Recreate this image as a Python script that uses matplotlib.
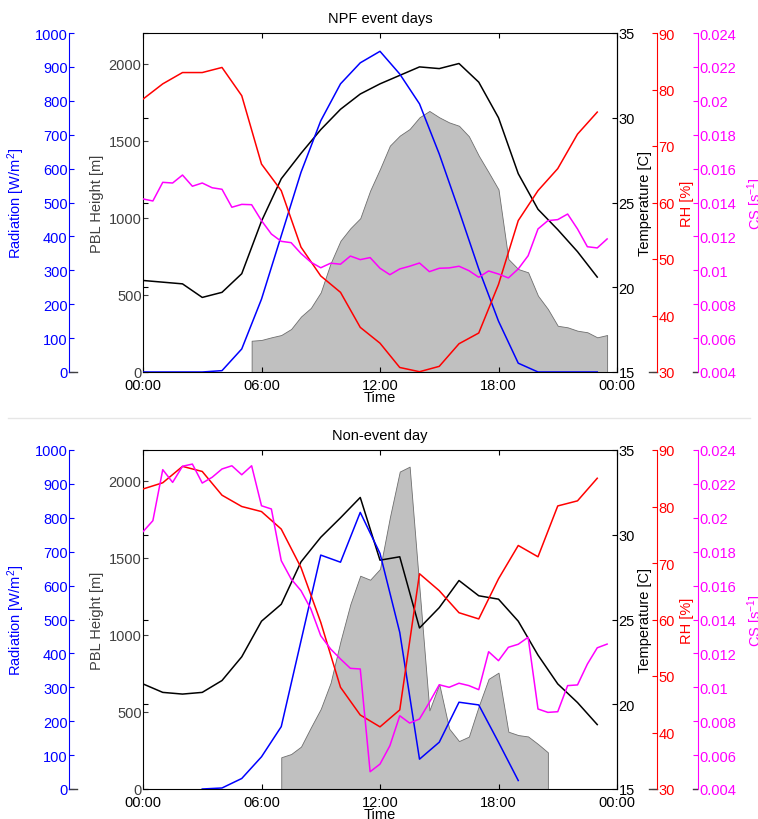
import numpy as np
import matplotlib
matplotlib.use('Agg')
import matplotlib.pyplot as plt
from matplotlib.lines import Line2D
from matplotlib.ticker import FuncFormatter

plt.rcParams['font.family'] = ['Liberation Sans', 'DejaVu Sans']
plt.rcParams['mathtext.default'] = 'regular'
plt.rcParams['font.size'] = 10

# time grids
hours = np.arange(0, 24, 1.0)
half_hours = np.arange(0, 24, 0.5)

# ---- NPF event days ----
temp_npf = [20.4, 20.3, 20.2, 19.4, 19.7, 20.8, 23.9, 26.4, 27.9, 29.3, 30.5, 31.4,
            32.0, 32.5, 33.0, 32.9, 33.2, 32.1, 30.0, 26.7, 24.6, 23.4, 22.1, 20.6]
rad_npf = [0, 0, 0, 0, 4, 68, 215, 402, 589, 741, 850, 912,
           946, 879, 791, 643, 476, 304, 150, 26, 0, 0, 0, 0]
rh_npf = [78.3, 81.0, 83.0, 83.0, 83.9, 78.9, 66.8, 62.1, 52.1, 47.0, 44.1, 37.9,
          35.1, 30.8, 30.05, 31.0, 35.0, 36.9, 45.5, 56.8, 62.1, 66.0, 72.1, 76.0]
cs_npf = [0.01421, 0.01409, 0.01519, 0.01515, 0.01562, 0.01496, 0.01515, 0.01487,
          0.01478, 0.01372, 0.01389, 0.01387, 0.01293, 0.01214, 0.01171, 0.01163,
          0.01099, 0.01048, 0.01015, 0.01042, 0.01036, 0.01084, 0.01063, 0.01075,
          0.01012, 0.00974, 0.01008, 0.01024, 0.01043, 0.00992, 0.01012, 0.01014,
          0.01024, 0.00998, 0.00959, 0.00996, 0.00978, 0.00955, 0.01008, 0.01086,
          0.01244, 0.01293, 0.01299, 0.01332, 0.01244, 0.01139, 0.01132, 0.01185]
pbl_npf_t = np.arange(5.5, 24, 0.5)
pbl_npf = [203, 208, 225, 240, 279, 360, 416, 517, 706, 852, 933, 998, 1177, 1318,
           1469, 1534, 1577, 1653, 1694, 1653, 1620, 1598, 1530, 1404, 1296, 1185,
           733, 668, 647, 495, 409, 300, 290, 268, 258, 225, 240]

# ---- Non-event day ----
temp_non = [21.2, 20.7, 20.6, 20.7, 21.4, 22.8, 24.9, 25.9, 28.4, 29.85, 31.0, 32.2,
            28.5, 28.7, 24.5, 25.7, 27.3, 26.4, 26.2, 24.9, 22.9, 21.2, 20.1, 18.8]
rad_non = [np.nan, np.nan, np.nan, 0, 3, 31, 95, 184, 437, 690, 669, 816,
           695, 462, 88, 138, 256, 248, 138, 25, np.nan, np.nan, np.nan, np.nan]
rh_non = [83.1, 84.2, 87.1, 86.2, 82.0, 80.0, 79.1, 76.0, 69.2, 59.5, 48.0, 43.1,
          41.0, 44.0, 68.1, 65.1, 61.2, 60.1, 67.2, 73.1, 71.1, 80.1, 81.0, 85.0]
cs_non = [0.01918, 0.01983, 0.02284, 0.02209, 0.02304, 0.02317, 0.02205, 0.02239,
          0.02288, 0.02307, 0.02254, 0.02307, 0.02071, 0.02052, 0.01747, 0.01639,
          0.0157, 0.01462, 0.01304, 0.01226, 0.01167, 0.01112, 0.01108, 0.00502,
          0.00547, 0.00655, 0.00832, 0.00789, 0.00813, 0.00911, 0.01015, 0.01000,
          0.01024, 0.0101, 0.00986, 0.0121, 0.01157, 0.01236, 0.01254, 0.01295,
          0.00872, 0.00852, 0.00856, 0.0101, 0.01014, 0.01137, 0.01233, 0.01255]
pbl_non_t = np.arange(7.0, 21, 0.5)
pbl_non = [206, 227, 275, 400, 520, 690, 960, 1200, 1384, 1358, 1428, 1763, 2060,
           2092, 1300, 510, 681, 392, 311, 340, 538, 715, 755, 372, 350, 341, 292, 238]

xticks = [0, 6, 12, 18, 24]
xticklabels = ['00:00', '06:00', '12:00', '18:00', '00:00']

W, H = 758.0, 820.0
AX_L, AX_R = 143.0, 617.0
AX_W = AX_R - AX_L
DGRAY = '#404040'
LW = 1.1


def only_spine(a, side):
    for s in a.spines:
        a.spines[s].set_visible(s == side)


def stub(a, x0, x1, color=DGRAY):
    a.add_line(Line2D([(x0 - AX_L) / AX_W, (x1 - AX_L) / AX_W], [0, 0],
                      transform=a.transAxes, color=color, lw=1.0, clip_on=False))


def panel(top_px, title, pbl_t, pbl, temp, rad, rh, cs):
    ax = fig.add_axes([AX_L / W, 1 - (top_px + 339) / H, AX_W / W, 339 / H])
    ax.fill_between(pbl_t, 0, pbl, facecolor='#c0c0c0', edgecolor='#6e6e6e', lw=0.6)
    ax.set_xlim(0, 24)
    ax.set_ylim(0, 2200)
    ax.set_yticks([0, 500, 1000, 1500, 2000])
    ax.set_xticks(xticks)
    ax.set_xticklabels(xticklabels)
    ax.tick_params(axis='both', direction='in', length=3.5, top=True, labelsize=10.5)
    ax.tick_params(axis='y', labelcolor=DGRAY, color=DGRAY, pad=1)
    ax.tick_params(axis='x', pad=4)
    ax.set_ylabel('PBL Height [m]', color=DGRAY, fontsize=10.5)
    ax.yaxis.set_label_coords((104 - AX_L) / AX_W, 0.5)
    ax.set_xlabel('Time', fontsize=10.5, labelpad=-1)
    ax.set_title(title, fontsize=10.5, pad=8)

    # temperature
    ax_t = ax.twinx()
    ax_t.plot(hours, temp, color='black', lw=LW)
    ax_t.set_ylim(15, 35)
    ax_t.set_yticks([15, 20, 25, 30, 35])
    ax_t.tick_params(axis='y', direction='in', length=3.5, left=True, labelsize=10.5, pad=1)
    ax_t.set_ylabel('Temperature [C]', fontsize=10.5)
    ax_t.yaxis.set_label_coords((638 - AX_L) / AX_W, 0.5)

    # radiation (far left)
    ax_r = ax.twinx()
    ax_r.plot(hours, rad, color='blue', lw=LW)
    ax_r.set_ylim(0, 1000)
    ax_r.set_yticks(np.arange(0, 1001, 100))
    ax_r.yaxis.tick_left()
    ax_r.yaxis.set_label_position('left')
    ax_r.spines['left'].set_position(('axes', (69 - AX_L) / AX_W))
    only_spine(ax_r, 'left')
    ax_r.spines['left'].set_color('blue')
    ax_r.tick_params(axis='y', direction='in', length=3.5, colors='blue', labelsize=10.5, pad=1)
    ax_r.set_ylabel('Radiation [W/m$^{2}$]', color='blue', fontsize=10.5)
    ax_r.yaxis.set_label_coords((27 - AX_L) / AX_W, 0.5)
    stub(ax_r, 69, 77)

    # relative humidity
    ax_h = ax.twinx()
    ax_h.plot(hours, rh, color='red', lw=LW)
    ax_h.set_ylim(30, 90)
    ax_h.set_yticks(np.arange(30, 91, 10))
    ax_h.spines['right'].set_position(('axes', (657 - AX_L) / AX_W))
    only_spine(ax_h, 'right')
    ax_h.spines['right'].set_color('red')
    ax_h.tick_params(axis='y', direction='in', length=3.5, colors='red', labelsize=10.5, pad=1)
    ax_h.set_ylabel('RH [%]', color='red', fontsize=10.5)
    ax_h.yaxis.set_label_coords((680 - AX_L) / AX_W, 0.5)
    stub(ax_h, 649, 657)

    # condensation sink
    ax_c = ax.twinx()
    ax_c.plot(half_hours, cs, color='magenta', lw=LW)
    ax_c.set_ylim(0.004, 0.024)
    ax_c.set_yticks(np.arange(0.004, 0.0241, 0.002))
    ax_c.yaxis.set_major_formatter(FuncFormatter(lambda v, p: '%g' % round(v, 4)))
    ax_c.spines['right'].set_position(('axes', (698 - AX_L) / AX_W))
    only_spine(ax_c, 'right')
    ax_c.spines['right'].set_color('magenta')
    ax_c.tick_params(axis='y', direction='in', length=3.5, colors='magenta', labelsize=10.5, pad=1)
    ax_c.set_ylabel('CS [s$^{-1}$]', color='magenta', fontsize=10.5)
    ax_c.yaxis.set_label_coords((745 - AX_L) / AX_W, 0.5)
    stub(ax_c, 693, 697)

    for a in (ax_t, ax_r, ax_h, ax_c):
        for s in ('top', 'bottom'):
            a.spines[s].set_visible(False)
    ax_t.spines['left'].set_visible(False)
    return ax


fig = plt.figure(figsize=(W / 100, H / 100), dpi=100)
panel(34, 'NPF event days', pbl_npf_t, pbl_npf, temp_npf, rad_npf, rh_npf, cs_npf)
panel(451, 'Non-event day', pbl_non_t, pbl_non, temp_non, rad_non, rh_non, cs_non)

# separator between the two panels
fig.add_artist(Line2D([8 / W, 750 / W], [1 - 419 / H, 1 - 419 / H],
                      color='#e6e6e6', lw=1.0))

fig.savefig('out.png', dpi=100)
